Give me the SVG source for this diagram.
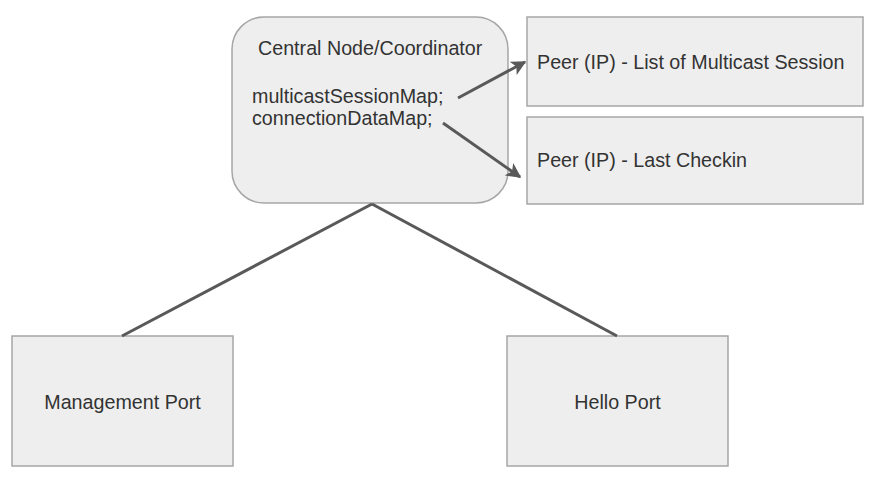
<svg xmlns="http://www.w3.org/2000/svg" width="870" height="483" viewBox="0 0 870 483">
<style>
.box{fill:#eeeeee;stroke:#a6a6a6;stroke-width:1.5}
.t{font-family:"Liberation Sans",Arial,sans-serif;font-size:19.7px;fill:#333333}
.c{text-anchor:middle}
.ln{stroke:#595959;stroke-width:3;fill:none}
</style>
<defs>
<marker id="ah" viewBox="0 0 10 10" refX="9" refY="5" markerWidth="5" markerHeight="5" orient="auto" markerUnits="strokeWidth">
<path d="M0,0 L10,5 L0,10 L2.5,5 Z" fill="#595959"/>
</marker>
</defs>
<rect width="870" height="483" fill="#ffffff"/>
<g id="central">
<rect class="box" x="232" y="17" width="276" height="186" rx="32" ry="32"/>
<text class="t" x="258" y="55">Central Node/Coordinator</text>
<text class="t" x="252" y="103">multicastSessionMap;</text>
<text class="t" x="252" y="125">connectionDataMap;</text>
</g>
<g id="peer-sessions">
<rect class="box" x="527" y="17" width="336" height="89"/>
<text class="t" x="537" y="69">Peer (IP) - List of Multicast Session</text>
</g>
<g id="peer-checkin">
<rect class="box" x="527" y="117" width="336" height="87"/>
<text class="t" x="537" y="167">Peer (IP) - Last Checkin</text>
</g>
<g id="management">
<rect class="box" x="12" y="336" width="221" height="130"/>
<text class="t c" x="122.5" y="409">Management Port</text>
</g>
<g id="hello">
<rect class="box" x="507" y="336" width="221" height="130"/>
<text class="t c" x="617.5" y="409">Hello Port</text>
</g>
<g id="connectors">
<path class="ln" d="M372,204 L122,336"/>
<path class="ln" d="M372,204 L617,336"/>
<path class="ln" d="M458,98 L525,62" marker-end="url(#ah)"/>
<path class="ln" d="M443,123 L520,177" marker-end="url(#ah)"/>
</g>
</svg>
